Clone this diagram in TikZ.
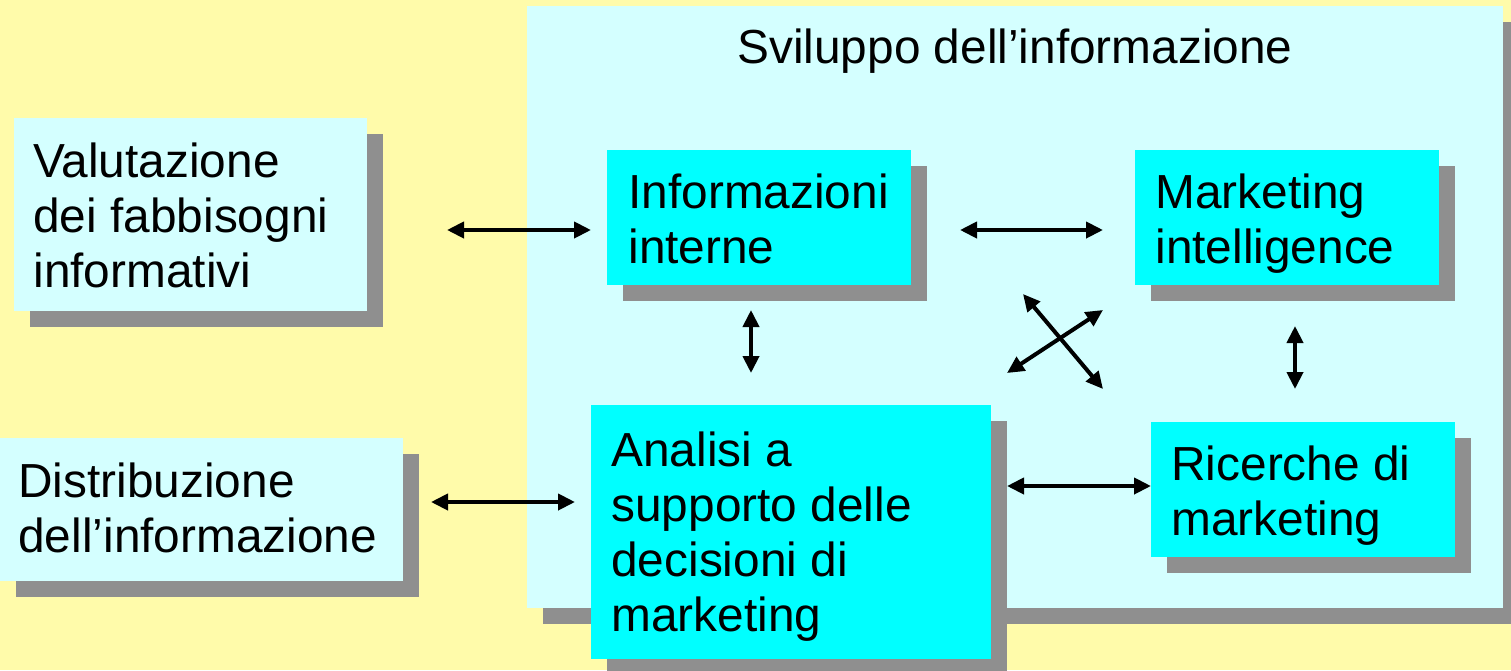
\documentclass[tikz,border=0pt]{standalone}
\usepackage{fontspec}
\setmainfont{Liberation Sans}
\usetikzlibrary{arrows.meta,shadows}
\definecolor{bgyellow}{HTML}{FFFBAA}
\definecolor{panelcyan}{HTML}{D4FFFF}
\definecolor{boxcyan}{HTML}{00FFFF}
\definecolor{shadowgray}{HTML}{8F8F8F}
\tikzset{
  shbox/.style={draw=none, inner sep=0pt, anchor=north west,
    drop shadow={shadow xshift=8pt, shadow yshift=-8pt, fill=shadowgray, opacity=1}},
  lightbox/.style={shbox, fill=panelcyan},
  cyanbox/.style={shbox, fill=boxcyan},
  txt/.style={inner sep=0pt, align=left, anchor=base west,
    font=\fontsize{23.9}{27.5}\selectfont},
  dbl/.style={{Triangle[length=8.5pt,width=8pt]}-{Triangle[length=8.5pt,width=8pt]}, line width=2pt, black},
}
\begin{document}
\begin{tikzpicture}[x=0.5pt,y=-0.5pt]
\useasboundingbox (0,0) rectangle (1511,670);
\clip (0,0) rectangle (1511,670);
\fill[bgyellow] (0,0) rectangle (1511,670);
% panel
\node[lightbox, minimum width=488pt, minimum height=301pt] (panel) at (527,6) {};
\node[txt, anchor=base] (title) at (1015,63) {Sviluppo dell’informazione};
% left boxes
\node[lightbox, minimum width=176.5pt, minimum height=96.5pt] (valbox) at (14,118) {};
\node[txt] (val) at (33,287) {Valutazione\\dei fabbisogni\\informativi};
\node[lightbox, minimum width=201.5pt, minimum height=71.5pt] (disbox) at (0,438) {};
\node[txt] (dis) at (18,552) {Distribuzione\\dell’informazione};
% inner boxes
\node[cyanbox, minimum width=152pt, minimum height=67.5pt] (iibox) at (607,150) {};
\node[txt] (ii) at (628,263) {Informazioni\\interne};
\node[cyanbox, minimum width=152pt, minimum height=67.5pt] (mibox) at (1135,150) {};
\node[txt] (mi) at (1155,263) {Marketing\\intelligence};
\node[cyanbox, minimum width=200pt, minimum height=127pt] (anbox) at (591,405) {};
\node[txt] (an) at (611,631) {Analisi a\\supporto delle\\decisioni di\\marketing};
\node[cyanbox, minimum width=152pt, minimum height=67.5pt] (rmbox) at (1151,422) {};
\node[txt] (rm) at (1171,535) {Ricerche di\\marketing};
% arrow endpoints
\coordinate (a1s) at (447,230); \coordinate (a1e) at (591,230);
\coordinate (a2s) at (960,230); \coordinate (a2e) at (1103,230);
\coordinate (a3s) at (751,310); \coordinate (a3e) at (751,373);
\coordinate (a4s) at (1295,326); \coordinate (a4e) at (1295,389);
\coordinate (a5s) at (431,502); \coordinate (a5e) at (575,502);
\coordinate (a6s) at (1007,486); \coordinate (a6e) at (1151,486);
\coordinate (x1s) at (1023,294); \coordinate (x1e) at (1103,389);
\coordinate (x2s) at (1007,373); \coordinate (x2e) at (1103,310);
\draw[dbl] (a1s) -- (a1e);
\draw[dbl] (a2s) -- (a2e);
\draw[dbl] (a3s) -- (a3e);
\draw[dbl] (a4s) -- (a4e);
\draw[dbl] (a5s) -- (a5e);
\draw[dbl] (a6s) -- (a6e);
\draw[dbl] (x1s) -- (x1e);
\draw[dbl] (x2s) -- (x2e);
\end{tikzpicture}
\end{document}
